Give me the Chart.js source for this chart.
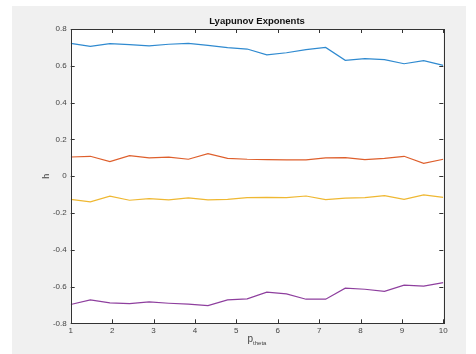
<!DOCTYPE html>
<html>
<head>
<meta charset="utf-8">
<script src="https://cdn.jsdelivr.net/npm/chart.js@4.4.0/dist/chart.umd.min.js"></script>
<style>
  body { margin: 0; background: #ffffff; }
  canvas { display: block; }
</style>
</head>
<body>
<canvas id="lyap" width="476" height="354"></canvas>
<script>
// p_theta sample positions (20 points from 1 to 10)
const pTheta = [1, 1.474, 1.947, 2.421, 2.895, 3.368, 3.842, 4.316, 4.789, 5.263,
                5.737, 6.211, 6.684, 7.158, 7.632, 8.105, 8.579, 9.053, 9.526, 10];

const h1 = [0.722, 0.706, 0.720, 0.715, 0.708, 0.717, 0.722, 0.711, 0.699, 0.691,
            0.659, 0.671, 0.688, 0.700, 0.630, 0.639, 0.633, 0.611, 0.628, 0.602];
const h2 = [0.104, 0.108, 0.079, 0.111, 0.099, 0.103, 0.092, 0.122, 0.097, 0.092,
            0.090, 0.088, 0.088, 0.099, 0.101, 0.090, 0.097, 0.108, 0.070, 0.092];
const h3 = [-0.126, -0.140, -0.109, -0.131, -0.122, -0.129, -0.118, -0.129, -0.126, -0.117,
            -0.115, -0.117, -0.108, -0.128, -0.120, -0.117, -0.106, -0.126, -0.102, -0.115];
const h4 = [-0.698, -0.673, -0.689, -0.693, -0.684, -0.691, -0.696, -0.704, -0.673, -0.667,
            -0.631, -0.640, -0.669, -0.669, -0.609, -0.615, -0.626, -0.593, -0.598, -0.579];

const xTicks = [1, 2, 3, 4, 5, 6, 7, 8, 9, 10];
const yTicks = [-0.8, -0.6, -0.4, -0.2, 0, 0.2, 0.4, 0.6, 0.8];

const lineColors = ['#2f8ad0', '#de5f2c', '#efb832', '#8e3f9e'];
const textColor = '#444444';
const fontFamily = '"Liberation Sans", Arial, Helvetica, sans-serif';

function toPoints(values) {
    return values.map((v, i) => ({ x: pTheta[i], y: v }));
}

const matlabFrame = {
    id: 'matlabFrame',
    beforeDraw(chart) {
        const ctx = chart.ctx;
        const a = chart.chartArea;
        ctx.save();
        ctx.fillStyle = '#f0f0f0';
        ctx.fillRect(12, 6, 454, 348);
        ctx.fillStyle = '#ffffff';
        ctx.fillRect(a.left, a.top, a.right - a.left, a.bottom - a.top);
        ctx.restore();
    },
    afterDraw(chart) {
        const ctx = chart.ctx;
        const a = chart.chartArea;
        const xs = chart.scales.x;
        const ys = chart.scales.y;
        const tick = 4;
        ctx.save();
        ctx.strokeStyle = '#333333';
        ctx.lineWidth = 1;

        // inward ticks on all four sides
        ctx.beginPath();
        xs.ticks.forEach((t) => {
            const px = Math.round(xs.getPixelForValue(t.value)) + 0.5;
            ctx.moveTo(px, a.bottom);
            ctx.lineTo(px, a.bottom - tick);
            ctx.moveTo(px, a.top);
            ctx.lineTo(px, a.top + tick);
        });
        ys.ticks.forEach((t) => {
            const py = Math.round(ys.getPixelForValue(t.value)) + 0.5;
            ctx.moveTo(a.left, py);
            ctx.lineTo(a.left + tick, py);
            ctx.moveTo(a.right, py);
            ctx.lineTo(a.right - tick, py);
        });
        ctx.stroke();

        // box
        ctx.strokeRect(Math.round(a.left) + 0.5, Math.round(a.top) + 0.5,
            Math.round(a.right - a.left), Math.round(a.bottom - a.top));

        // title
        const cx = (a.left + a.right) / 2;
        ctx.fillStyle = '#111111';
        ctx.font = 'bold 9.5px ' + fontFamily;
        ctx.textAlign = 'center';
        ctx.textBaseline = 'middle';
        ctx.fillText('Lyapunov Exponents', cx, 21);

        // x label: p with subscript theta
        ctx.fillStyle = textColor;
        ctx.font = '10px ' + fontFamily;
        const pW = ctx.measureText('p').width;
        ctx.font = '6px ' + fontFamily;
        const subW = ctx.measureText('theta').width;
        const startX = cx - (pW + subW) / 2;
        ctx.textAlign = 'left';
        ctx.textBaseline = 'alphabetic';
        ctx.font = '10px ' + fontFamily;
        ctx.fillText('p', startX, 342);
        ctx.font = '6px ' + fontFamily;
        ctx.fillText('theta', startX + pW, 345);

        // y label
        ctx.font = '9px ' + fontFamily;
        ctx.textAlign = 'center';
        ctx.textBaseline = 'middle';
        ctx.translate(47, (a.top + a.bottom) / 2);
        ctx.rotate(-Math.PI / 2);
        ctx.fillText('h', 0, 0);
        ctx.restore();
    }
};

new Chart(document.getElementById('lyap'), {
    type: 'line',
    data: {
        datasets: [h1, h2, h3, h4].map((vals, i) => ({
            data: toPoints(vals),
            borderColor: lineColors[i],
            borderWidth: 1.2,
            pointRadius: 0,
            tension: 0,
            fill: false,
        })),
    },
    options: {
        responsive: false,
        animation: false,
        events: [],
        layout: { padding: { left: 0, top: 29, right: 32.7, bottom: 0 } },
        plugins: {
            legend: { display: false },
            tooltip: { enabled: false },
            title: { display: false },
        },
        scales: {
            x: {
                type: 'linear',
                min: 1,
                max: 10,
                afterBuildTicks: (scale) => { scale.ticks = xTicks.map((v) => ({ value: v })); },
                afterFit: (scale) => { scale.height = 30.7; },
                grid: { display: false, drawTicks: false },
                border: { display: false },
                ticks: {
                    padding: 3,
                    color: textColor,
                    font: { family: fontFamily, size: 8 },
                    maxRotation: 0,
                    callback: (v) => String(v),
                },
            },
            y: {
                type: 'linear',
                min: -0.8,
                max: 0.8,
                afterBuildTicks: (scale) => { scale.ticks = yTicks.map((v) => ({ value: v })); },
                afterFit: (scale) => { scale.width = 70.7; },
                grid: { display: false, drawTicks: false },
                border: { display: false },
                ticks: {
                    padding: 4,
                    color: textColor,
                    font: { family: fontFamily, size: 8 },
                    callback: (v) => String(Number(v.toFixed(1))),
                },
            },
        },
    },
    plugins: [matlabFrame],
});
</script>
</body>
</html>
